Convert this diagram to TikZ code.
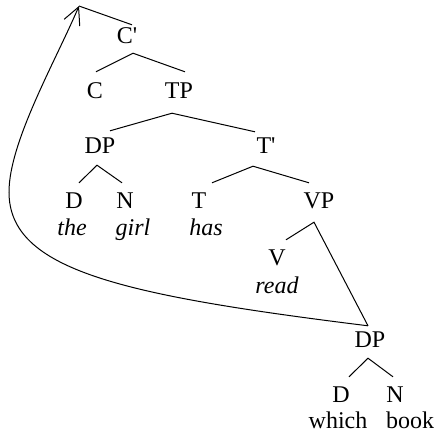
\documentclass[tikz,border=0pt]{standalone}
\usepackage{fontspec}
\setmainfont{Liberation Serif}[Ligatures=TeXOff]
\usetikzlibrary{arrows.meta}
\begin{document}
\begin{tikzpicture}[x=1pt,y=-1pt,
  lab/.style={inner sep=0pt,text height=16pt,text depth=0pt,anchor=base,font=\fontsize{24}{28}\selectfont},
  word/.style={inner sep=0pt,anchor=base,font=\fontsize{24}{28}\selectfont},
  iword/.style={word,font=\fontsize{24}{28}\selectfont\itshape},
  branch/.style={line width=1pt},
  move/.style={line width=1pt,-{Straight Barb[length=17pt,width=17pt,line width=1pt]}}]
\useasboundingbox (0,0) rectangle (437,432);
% labels
\node[lab] (Cbar) at (127,43) {C'};
\node[lab] (C) at (95,98) {C};
\node[lab] (TP) at (179,98) {TP};
\node[lab] (DP) at (100,153) {DP};
\node[lab] (Tbar) at (266,153) {T'};
\node[lab] (D) at (74,208) {D};
\node[lab] (N) at (125,208) {N};
\node[lab] (T) at (199,208) {T};
\node[lab] (VP) at (319,208) {VP};
\node[lab] (V) at (277,265) {V};
\node[lab] (DPb) at (370,347) {DP};
\node[lab] (Db) at (341,402) {D};
\node[lab] (Nb) at (395,402) {N};
% words
\node[iword] (the) at (72,235) {the};
\node[iword] (girl) at (133,235) {girl};
\node[iword] (has) at (206,235) {has};
\node[iword] (read) at (277,293) {read};
\node[word] (which) at (338,428) {which};
\node[word] (book) at (410,428) {book};
\coordinate (spec) at (79,6);
% branches
\draw[branch] ([shift={(1,-10)}]C.north) -- ([shift={(6,10)}]Cbar.south) -- ([shift={(6,-10)}]TP.north);
\draw[branch] ([shift={(10,-6)}]DP.north) -- ([shift={(-7,15)}]TP.south) -- ([shift={(-11,-5)}]Tbar.north);
\draw[branch] ([shift={(13,-9)}]T.north) -- ([shift={(-13,13)}]Tbar.south) -- ([shift={(-10,-9)}]VP.north);
\draw[branch] ([shift={(5,-9)}]D.north) -- ([shift={(-3,12)}]DP.south) -- ([shift={(-3,-9)}]N.north);
\draw[branch] ([shift={(9,-9)}]V.north) -- ([shift={(-5,14)}]VP.south) -- ([shift={(-2,-5)}]DPb.north);
\draw[branch] ([shift={(8,-9)}]Db.north) -- ([shift={(-2,11)}]DPb.south) -- ([shift={(-2,-9)}]Nb.north);
\draw[branch] ([shift={(5,-2)}]Cbar.north) -- (spec);
% movement arrow
\draw[move] ([shift={(-2,-5)}]DPb.north) .. controls (120,295) and (9,270) .. (9,192)
  .. controls (9,142) and (55.6,61) .. (spec);
\end{tikzpicture}
\end{document}
